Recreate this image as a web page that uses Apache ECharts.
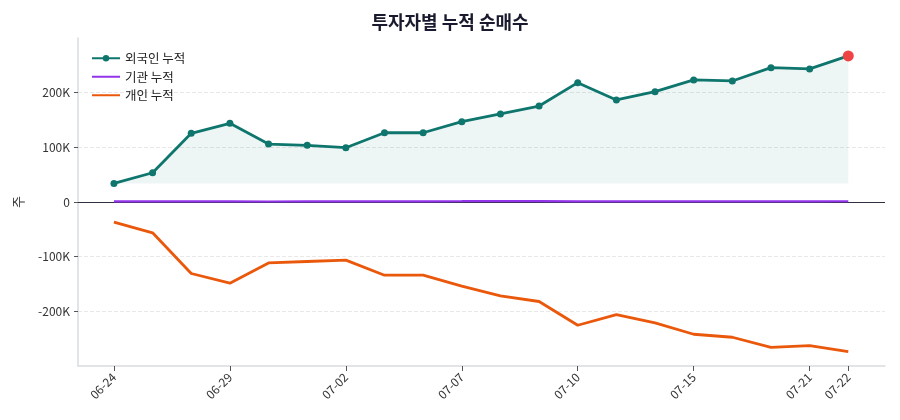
<!DOCTYPE html>
<html>
<head>
<meta charset="utf-8">
<script src="https://cdn.jsdelivr.net/npm/echarts@6/dist/echarts.min.js"></script>
<style>
  html, body { margin: 0; padding: 0; background: #fff; }
  #main { width: 900px; height: 420px; }
</style>
</head>
<body>
<div id="main"></div>
<script>
var dom = document.getElementById('main');
var chart = echarts.init(dom, null, { renderer: 'canvas' });

// 거래일
const dates = ['06-24', '06-25', '06-26', '06-29', '06-30', '07-01', '07-02', '07-03', '07-06', '07-07',
  '07-08', '07-09', '07-10', '07-13', '07-14', '07-15', '07-16', '07-17', '07-21', '07-22'];
const tickIdx = [0, 3, 6, 9, 12, 15, 18, 19];

const foreign = [34000, 53500, 125600, 144000, 106000, 103700, 99300, 126700, 126700, 146900,
  161000, 175600, 218300, 186600, 201800, 223300, 221400, 245800, 243400, 267200];
const inst = [1200, 1300, 1100, 1000, 900, 1000, 1100, 1200, 1300, 1500,
  1800, 1600, 1300, 1200, 1100, 1000, 1100, 1200, 1300, 1400];
const retail = [-36800, -56400, -130800, -148500, -111400, -108800, -106400, -133900, -133900, -154000,
  -171800, -182000, -225500, -205900, -221200, -241900, -247400, -265800, -262600, -273600];

const yLabels = [-200000, -100000, 0, 100000, 200000];

function pairs(arr) {
  return arr.map(function (v, i) { return [i, v]; });
}

var foreignData = pairs(foreign);
var last = foreignData.length - 1;
foreignData[last] = {
  value: foreignData[last],
  symbolSize: 11,
  itemStyle: { color: '#ef4444' }
};

var font = 'Noto Sans CJK KR';

var option = {
  textStyle: { fontFamily: font },
  animation: false,
  title: {
    text: '투자자별 누적 순매수',
    left: 'center',
    top: 8,
    textStyle: { fontSize: 18, fontWeight: 'bold', color: '#1a1a2e', fontFamily: font }
  },
  legend: {
    orient: 'vertical',
    left: 86,
    top: 47,
    itemWidth: 28,
    itemHeight: 8,
    itemGap: 6,
    textStyle: { fontSize: 12.5, color: '#222', fontFamily: font },
    data: [
      { name: '외국인 누적' },
      { name: '기관 누적', itemStyle: { opacity: 0 } },
      { name: '개인 누적', itemStyle: { opacity: 0 } }
    ]
  },
  grid: { left: 78, right: 15, top: 38, bottom: 54 },
  xAxis: {
    type: 'value',
    min: -0.93,
    max: 19.95,
    splitLine: { show: false },
    axisLine: { show: true, onZero: false, lineStyle: { color: '#d9dce1', width: 1.5 } },
    axisTick: { show: true, customValues: tickIdx, length: 5, lineStyle: { color: '#555' } },
    axisLabel: {
      customValues: tickIdx,
      rotate: 45,
      fontSize: 12,
      color: '#333',
      margin: 9,
      formatter: function (v) { return dates[Math.round(v)]; }
    }
  },
  yAxis: {
    type: 'value',
    min: -300000,
    max: 300000,
    interval: 100000,
    name: '주',
    nameLocation: 'middle',
    nameRotate: 90,
    nameGap: 53,
    nameTextStyle: { fontSize: 13, color: '#333' },
    axisLine: { show: true, onZero: false, lineStyle: { color: '#d9dce1', width: 1.5 } },
    axisTick: { show: true, length: 4, lineStyle: { color: '#555' } },
    axisLabel: {
      showMinLabel: false,
      showMaxLabel: false,
      fontSize: 12,
      color: '#333',
      formatter: function (v) {
        if (yLabels.indexOf(v) < 0) return '';
        return v === 0 ? '0' : (v / 1000) + 'K';
      }
    },
    splitLine: {
      show: true,
      showMinLine: false,
      showMaxLine: false,
      lineStyle: { type: 'dashed', color: '#e8e8e8', width: 1 }
    }
  },
  series: [
    {
      name: '외국인 누적',
      type: 'line',
      data: foreignData,
      symbol: 'circle',
      symbolSize: 7,
      z: 4,
      lineStyle: { color: '#0f766e', width: 2.8 },
      itemStyle: { color: '#0f766e' },
      areaStyle: { color: 'rgba(15,118,110,0.1)', origin: Math.min.apply(null, foreign) }
    },
    {
      name: '기관 누적',
      type: 'line',
      data: pairs(inst),
      symbol: 'none',
      z: 3,
      lineStyle: { color: '#9333ea', width: 2.2 },
      itemStyle: { color: '#9333ea' },
      markLine: {
        silent: true,
        symbol: 'none',
        label: { show: false },
        lineStyle: { color: '#2d3142', width: 1.2, type: 'solid' },
        data: [{ yAxis: 0 }],
        z: 2
      }
    },
    {
      name: '개인 누적',
      type: 'line',
      data: pairs(retail),
      symbol: 'none',
      z: 3,
      lineStyle: { color: '#ea580c', width: 2.8 },
      itemStyle: { color: '#ea580c' }
    }
  ]
};

chart.setOption(option);
window.addEventListener('resize', chart.resize);
</script>
</body>
</html>
